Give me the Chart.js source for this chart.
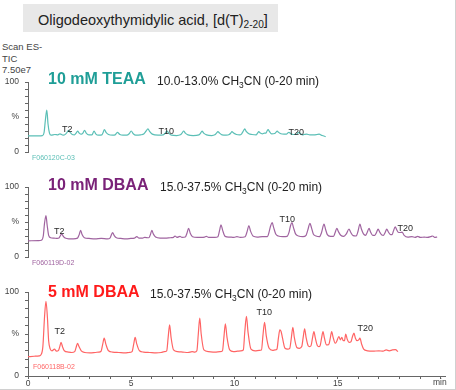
<!DOCTYPE html>
<html>
<head>
<meta charset="utf-8">
<script src="https://cdn.jsdelivr.net/npm/chart.js@4.4.1/dist/chart.umd.min.js"></script>
<style>
  body { margin: 0; background: #fff; }
  #wrap { position: relative; width: 456px; height: 390px; overflow: hidden;
          font-family: "Liberation Sans", Arial, sans-serif; }
  #wrap canvas { position: absolute; left: 0; top: 0; }
  .t { position: absolute; white-space: nowrap; line-height: 1; }
  .t sub { font-size: 70%; vertical-align: -0.3em; line-height: 0; }
  .peak { font-size: 9px; color: #2a2a2a; }
  .file { font-size: 7px; }
  .head { font-size: 16px; font-weight: bold; }
  .sub { font-size: 12px; color: #222; }
  #frame { position: absolute; left: 0; top: 0; width: 455px; height: 389px;
           border-right: 1px solid #d0d0d0; border-bottom: 1px solid #d0d0d0; }
  #titlebox { position: absolute; left: 23px; top: 4px; width: 255px; height: 28px; background: #e8e8e8; }
</style>
</head>
<body>
<div id="wrap">
  <div id="frame"></div>
  <div id="titlebox"></div>
  <div class="t" style="left:38px;top:12.5px;font-size:14.5px;color:#222">Oligodeoxythymidylic acid, [d(T)<sub>2-20</sub>]</div>

  <div class="t" style="left:2px;top:42px;font-size:9.5px;color:#444">Scan ES-</div>
  <div class="t" style="left:2px;top:53.6px;font-size:9.5px;color:#444">TIC</div>
  <div class="t" style="left:2px;top:65.3px;font-size:9.5px;color:#444">7.50e7</div>

  <canvas id="teaa" width="456" height="390"></canvas>
  <canvas id="dbaa10" width="456" height="390"></canvas>
  <canvas id="dbaa5" width="456" height="390"></canvas>

  <!-- заголовки панелей -->
  <div class="t head" style="left:48px;top:71.2px;color:#1f9e97">10 mM TEAA</div>
  <div class="t sub" style="left:157px;top:74.5px">10.0-13.0% CH<sub>3</sub>CN (0-20 min)</div>
  <div class="t head" style="left:48px;top:177.2px;color:#7a2278">10 mM DBAA</div>
  <div class="t sub" style="left:160px;top:180.5px">15.0-37.5% CH<sub>3</sub>CN (0-20 min)</div>
  <div class="t head" style="left:48px;top:284.2px;color:#ff1a1a">5 mM DBAA</div>
  <div class="t sub" style="left:150px;top:287.5px">15.0-37.5% CH<sub>3</sub>CN (0-20 min)</div>

  <!-- метки олигомеров -->
  <div class="t peak" style="left:62px;top:124.5px">T2</div>
  <div class="t peak" style="left:158.5px;top:126.5px">T10</div>
  <div class="t peak" style="left:288.5px;top:127.5px">T20</div>
  <div class="t peak" style="left:54px;top:227px">T2</div>
  <div class="t peak" style="left:279.5px;top:214.5px">T10</div>
  <div class="t peak" style="left:397.5px;top:223.5px">T20</div>
  <div class="t peak" style="left:54.5px;top:326.5px">T2</div>
  <div class="t peak" style="left:256.5px;top:307.5px">T10</div>
  <div class="t peak" style="left:357.5px;top:323.5px">T20</div>

  <div class="t file" style="left:32px;top:153.6px;color:#5bbfb6">F060120C-03</div>
  <div class="t file" style="left:32px;top:258.6px;color:#a064a0">F060119D-02</div>
  <div class="t file" style="left:33px;top:362.6px;color:#ff6666">F060118B-02</div>

  <div class="t" style="left:433px;top:378px;font-size:8.5px;color:#444">min</div>
</div>

<script>
// 10 mM TEAA, 10.0-13.0% CH3CN
const teaaTime = [0, 0.5, 0.7, 0.78, 0.84, 0.91, 0.97, 1.04, 1.12, 1.3, 1.45, 1.55, 1.7, 1.82, 1.89, 1.96, 2.04, 2.14,
  2.25, 2.33, 2.4, 2.48, 2.58, 2.66, 2.74, 2.82, 2.95, 3.1, 3.2, 3.28, 3.42, 3.58, 3.64, 3.7, 3.78, 3.9, 4.1, 4.22,
  4.33, 4.45, 4.6, 4.78, 4.9, 5.0, 5.1, 5.22, 5.45, 5.62, 5.72, 5.81, 5.9, 6.02, 6.3, 6.55, 6.65, 6.73, 6.82, 6.95,
  7.2, 7.38, 7.46, 7.54, 7.62, 7.75, 8.0, 8.28, 8.36, 8.43, 8.51, 8.65, 8.9, 9.05, 9.13, 9.2, 9.28, 9.4, 9.6, 9.75,
  9.82, 9.88, 9.96, 10.1, 10.25, 10.35, 10.43, 10.5, 10.58, 10.7, 10.85, 11.05, 11.12, 11.18, 11.25, 11.35, 11.45,
  11.52, 11.58, 11.63, 11.7, 11.8, 11.95, 12.01, 12.07, 12.14, 12.25, 12.4, 12.52, 12.58, 12.64, 12.72, 12.85, 12.98,
  13.05, 13.12, 13.2, 13.3, 13.38, 13.5, 13.65, 13.85, 14.0, 14.1, 14.25, 14.42];
const teaaSignal = [23, 23, 23.5, 28, 45, 60, 40, 27, 24, 25, 24.5, 26, 24, 25.5, 28, 31, 28, 25,
  24.5, 27, 30, 27, 25.5, 27, 31, 27, 24.5, 24.5, 30, 26, 24, 24.5, 28, 32, 28, 25, 24, 24.5,
  28, 25, 24, 24, 26, 30, 26, 24, 24.5, 26, 30, 33, 29, 25.5, 24, 24.5, 27, 30, 27, 24,
  23.5, 24.5, 27, 30, 27, 24.5, 23.5, 24.5, 27, 30, 27, 24.5, 23.5, 24.5, 27, 29, 27, 24.5, 24, 25,
  27, 29, 27, 25, 24.5, 26, 30, 33, 29, 26, 25, 24.5, 27, 29, 27, 26, 27,
  27, 30, 32, 29, 26, 26.5, 28, 30, 28, 26, 25.5, 25.5, 27, 28, 26.5, 25, 25,
  26.5, 28, 26, 24.5, 25, 25.5, 24.5, 24.5, 25, 25.5, 23.5, 22];

// 10 mM DBAA, 15.0-37.5% CH3CN
const dbaa10Time = [0, 0.5, 0.65, 0.74, 0.8, 0.87, 0.93, 1.0, 1.1, 1.25, 1.42, 1.5, 1.56, 1.63, 1.7, 1.8, 1.98, 2.2,
  2.4, 2.48, 2.55, 2.62, 2.73, 2.95, 3.25, 3.55, 3.85, 3.97, 4.03, 4.1, 4.17, 4.28, 4.5, 4.75, 4.98, 5.15, 5.27,
  5.38, 5.55, 5.65, 5.85, 5.93, 6.0, 6.07, 6.18, 6.4, 6.65, 6.9, 7.05, 7.12, 7.22, 7.36, 7.46, 7.62, 7.7, 7.78,
  7.86, 7.97, 8.2, 8.42, 8.55, 8.64, 8.75, 9.05, 9.2, 9.28, 9.35, 9.43, 9.55, 9.75, 9.98, 10.12, 10.28, 10.52,
  10.62, 10.7, 10.78, 10.92, 11.1, 11.35, 11.6, 11.68, 11.76, 11.83, 11.9, 12.0, 12.12, 12.35, 12.55, 12.65,
  12.72, 12.79, 12.86, 12.96, 13.1, 13.32, 13.47, 13.55, 13.66, 13.73, 13.82, 13.95, 14.12, 14.22, 14.34, 14.41,
  14.5, 14.65, 14.8, 14.88, 14.96, 15.04, 15.15, 15.3, 15.42, 15.55, 15.62, 15.75, 15.9, 15.98, 16.08, 16.15,
  16.25, 16.35, 16.43, 16.52, 16.59, 16.7, 16.8, 16.88, 16.96, 17.03, 17.14, 17.22, 17.3, 17.38, 17.45, 17.56,
  17.64, 17.7, 17.79, 17.86, 17.95, 18.05, 18.12, 18.22, 18.4, 18.6, 18.75, 18.88, 19.0, 19.2, 19.35, 19.5,
  19.6, 19.7, 19.82];
const dbaa10Signal = [23, 23.5, 24, 30, 48, 59, 45, 31, 27.5, 27, 26.5, 27, 30, 33, 30, 27, 26, 26,
  27, 32, 38, 32, 27.5, 26.5, 26, 26.5, 26, 27, 31, 35, 31, 27.5, 26.5, 26, 26.5, 27, 29,
  27, 27, 28, 27.5, 32, 38, 33, 28.5, 27, 27, 27.5, 28, 30, 28, 29.5, 28, 28.5, 34, 41,
  34, 29, 28, 28, 28.5, 29.5, 28, 28, 29, 38, 46, 38, 29.5, 28.5, 28, 29, 28, 29,
  37, 45, 37, 29.5, 28.5, 29, 29, 36, 45, 49, 42, 33, 30, 29, 29.5, 36,
  45, 49, 42, 33, 30, 29, 31, 38, 48, 42, 33, 30, 29, 35, 47, 40,
  32, 29.5, 29.5, 35, 41, 36, 31, 29.5, 33, 40, 36, 30.5, 30, 36, 47, 40,
  33, 31, 35, 41, 36, 31, 31, 35, 40, 36, 31.5, 31, 35, 40, 36, 32,
  32, 37, 43, 39, 35, 35, 35.5, 31, 28.5, 29, 28, 29.5, 28, 28.5, 28, 29,
  30, 28, 28.5];

// 5 mM DBAA, 15.0-37.5% CH3CN
const dbaa5Time = [0, 0.3, 0.55, 0.62, 0.72, 0.8, 0.87, 0.94, 1.0, 1.08, 1.16, 1.28, 1.38, 1.48, 1.54, 1.6, 1.67,
  1.76, 1.95, 2.12, 2.26, 2.33, 2.4, 2.47, 2.58, 2.75, 3.0, 3.25, 3.42, 3.54, 3.62, 3.69, 3.77, 3.9, 4.1, 4.4, 4.7,
  4.9, 5.04, 5.12, 5.19, 5.27, 5.4, 5.6, 5.9, 6.2, 6.45, 6.6, 6.72, 6.79, 6.86, 6.93, 7.05, 7.25, 7.5, 7.75, 7.95,
  8.08, 8.18, 8.25, 8.32, 8.39, 8.52, 8.75, 9.05, 9.3, 9.42, 9.49, 9.56, 9.64, 9.77, 9.95, 10.15, 10.3, 10.43, 10.5,
  10.58, 10.66, 10.8, 11.0, 11.2, 11.31, 11.38, 11.46, 11.54, 11.68, 11.85, 11.97, 12.06, 12.13, 12.2, 12.26, 12.33,
  12.45, 12.58, 12.68, 12.76, 12.83, 12.9, 13.02, 13.15, 13.26, 13.33, 13.4, 13.47, 13.57, 13.64, 13.71, 13.78,
  13.85, 13.92, 14.02, 14.09, 14.15, 14.22, 14.29, 14.36, 14.46, 14.52, 14.58, 14.65, 14.71, 14.78, 14.88, 14.95,
  15.06, 15.13, 15.2, 15.27, 15.33, 15.39, 15.46, 15.55, 15.65, 15.72, 15.79, 15.86, 15.94, 16.02, 16.08, 16.16,
  16.26, 16.45, 16.7, 17.0, 17.2, 17.35, 17.5, 17.65, 17.8, 17.92];
const dbaa5Signal = [23, 23.5, 24, 25, 35, 70, 89, 70, 42, 32, 30, 32, 29.5, 30.5, 35, 40, 35,
  30, 28.5, 28, 29, 34, 39, 35, 30, 28, 27.5, 28, 28.5, 29.5, 38, 45, 38, 30, 28.5, 28, 27.5,
  28, 29, 38, 46, 38, 30, 28.5, 28, 27.5, 28, 29, 30, 46, 61, 46, 31, 29, 28.5, 28, 29,
  28.5, 30, 50, 69, 50, 31, 29, 28.5, 29, 30, 46, 62, 46, 31, 29, 29.5, 30, 31, 52,
  71, 52, 32, 30, 30.5, 31, 48, 64, 48, 33, 30.5, 31, 32, 45, 55, 53, 45,
  33, 32, 33, 46, 58, 46, 34, 33, 35, 46, 56, 46, 36, 35, 36, 45,
  53, 45, 36, 35, 36, 45, 53, 45, 37, 37, 38, 46, 53, 46, 39, 41,
  47, 43, 46, 42, 42, 50, 44, 40, 41, 47, 51, 45, 42, 43, 45, 38,
  32, 30, 29.5, 30, 29.5, 31, 30, 31, 31.5, 29];

const xTicks = [0, 5, 10, 15];
const axisColor = '#666';
const tickFont = { family: 'Liberation Sans', size: 8.5 };

function makePanel(canvasId, times, signal, color, top, showX) {
  const points = times.map((t, i) => ({ x: t, y: signal[i] }));
  return new Chart(document.getElementById(canvasId), {
    type: 'line',
    data: { datasets: [{ data: points, borderColor: color, borderWidth: 1.2,
      pointRadius: 0, cubicInterpolationMode: 'monotone', fill: false }] },
    options: {
      responsive: false, animation: false, events: [],
      layout: { padding: { top: top, bottom: showX ? 0 : 390 - top - 84, left: 0, right: 11 } },
      plugins: { legend: { display: false }, tooltip: { enabled: false } },
      scales: {
        x: {
          type: 'linear', min: 0, max: 20.2, display: showX,
          border: { color: axisColor },
          grid: { drawOnChartArea: false, tickLength: 3, color: axisColor },
          ticks: { stepSize: 1, autoSkip: false, includeBounds: false, maxRotation: 0, padding: 0,
            color: '#444', font: tickFont,
            callback: v => xTicks.includes(v) ? String(v) : '' },
          afterFit: s => { s.height = 14; }
        },
        y: {
          min: 0, max: 100,
          border: { color: axisColor },
          grid: { drawOnChartArea: false, tickLength: 3, color: axisColor },
          ticks: { stepSize: 10, autoSkip: false, padding: 6, color: '#444', font: tickFont,
            callback: v => v === 100 ? '100' : v === 50 ? '%' : v === 0 ? '0' : '' },
          afterFit: s => { s.width = 28; }
        }
      }
    }
  });
}

makePanel('teaa', teaaTime, teaaSignal, '#5bbfb6', 82, false);
makePanel('dbaa10', dbaa10Time, dbaa10Signal, '#a064a0', 187, false);
makePanel('dbaa5', dbaa5Time, dbaa5Signal, '#ff6464', 292, true);
</script>
</body>
</html>
